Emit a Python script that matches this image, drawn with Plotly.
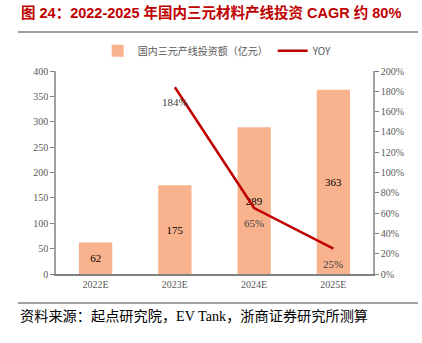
import plotly.graph_objects as go

categories = ["2022E", "2023E", "2024E", "2025E"]
investment = [62, 175, 289, 363]
yoy_cats = ["2023E", "2024E", "2025E"]
yoy = [184, 65, 25]
bar_name = "国内三元产线投资额（亿元）"
line_name = "YOY"
title_text = "图 24：2022-2025 年国内三元材料产线投资 CAGR 约 80%"
source_text = "资料来源：起点研究院，EV Tank，浙商证券研究所测算"

serif = "Liberation Serif, Noto Sans CJK SC, serif"
tick_color = "#595959"

fig = go.Figure()
fig.add_trace(go.Bar(
    x=categories, y=investment, name=bar_name,
    marker=dict(color="#F8B38E", line=dict(width=0)),
    text=[str(v) for v in investment], textposition="inside",
    insidetextanchor="middle",
    textfont=dict(family=serif, size=11, color="#000000"),
    yaxis="y",
))
fig.add_trace(go.Scatter(
    x=yoy_cats, y=yoy, name=line_name, mode="lines",
    line=dict(color="#C00000", width=2.5),
    yaxis="y2",
))

annotations = [
    dict(text=title_text, xref="paper", yref="paper", x=-0.117, y=1.286,
         xanchor="left", yanchor="middle", showarrow=False,
         font=dict(family="Liberation Sans, Noto Sans CJK SC", size=14.5, color="#C00000", weight="bold")),
    dict(text=source_text, xref="paper", yref="paper", x=-0.12, y=-0.205,
         xanchor="left", yanchor="middle", showarrow=False,
         font=dict(family="Liberation Serif, Noto Sans CJK SC", size=14.2, color="#000000")),
]
for c, v in zip(yoy_cats, yoy):
    annotations.append(dict(text=f"{v}%", x=c, y=v, xref="x", yref="y2", yshift=-15,
                            showarrow=False,
                            font=dict(family=serif, size=11, color="#404040")))

fig.update_layout(
    width=422, height=343,
    margin=dict(l=56, r=49, t=71, b=69),
    paper_bgcolor="white", plot_bgcolor="white",
    bargap=0.58,
    showlegend=True,
    legend=dict(orientation="h", x=0.51, xanchor="center", y=1.10, yanchor="middle",
                font=dict(family="Noto Sans CJK SC", size=10, color=tick_color),
                bgcolor="rgba(0,0,0,0)", itemwidth=30),
    xaxis=dict(type="category", showline=True, linecolor="#808080", linewidth=1.5,
               ticks="", tickfont=dict(family=serif, size=10, color=tick_color),
               showgrid=False),
    yaxis=dict(range=[0, 400], dtick=50, showline=True, linecolor="#A0A0A0", linewidth=1.5,
               ticks="outside", ticklen=4, tickcolor="#808080",
               tickfont=dict(family=serif, size=10, color=tick_color), showgrid=False,
               zeroline=False),
    yaxis2=dict(range=[0, 200], dtick=20, overlaying="y", side="right", showline=True,
                linecolor="#A0A0A0", linewidth=1.5, ticks="outside", ticklen=4,
                tickcolor="#808080", ticksuffix="%",
                tickfont=dict(family=serif, size=10, color=tick_color), showgrid=False,
                zeroline=False),
    annotations=annotations,
    shapes=[
        dict(type="line", xref="paper", yref="paper", x0=-0.12, x1=1.142, y0=1.192, y1=1.192,
             line=dict(color="#808080", width=1.5)),
        dict(type="line", xref="paper", yref="paper", x0=-0.12, x1=1.142, y0=-0.143, y1=-0.143,
             line=dict(color="#808080", width=1.5)),
    ],
)

fig.write_html("out.html")
